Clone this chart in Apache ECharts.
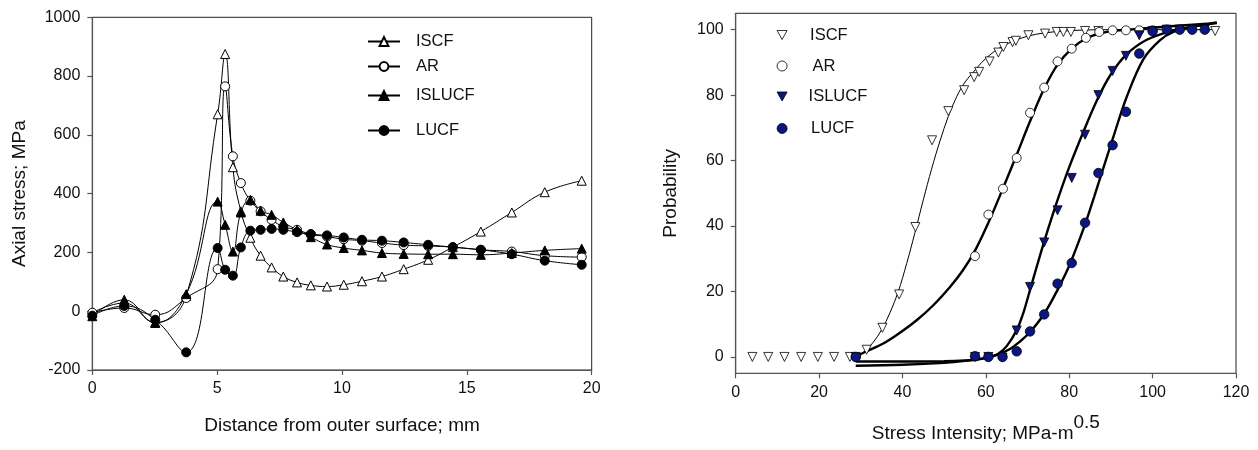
<!DOCTYPE html>
<html>
<head>
<meta charset="utf-8">
<script src="https://cdn.jsdelivr.net/npm/echarts@6/dist/echarts.min.js"></script>
<style>html,body{margin:0;padding:0;background:#fff;}#c{width:1258px;height:450px;}</style>
</head>
<body>
<div id="c"></div>
<script>
// ---------- Left chart: axial stress vs distance ----------
const distance = [0, 1.28, 2.52, 3.76, 5.02, 5.32, 5.63, 5.95, 6.33, 6.74, 7.18, 7.65, 8.2, 8.75, 9.4, 10.07, 10.8, 11.6, 12.47, 13.45, 14.44, 15.56, 16.8, 18.12, 19.6];
const stressISCF   = [-5, 28, -38, 52, 670, 875, 490, 340, 250, 189, 149, 118, 98, 88, 84, 90, 102, 118, 143, 175, 218, 271, 336, 405, 444];
const stressAR     = [-5, 11, -12, 45, 143, 765, 527, 436, 376, 340, 311, 288, 277, 262, 254, 245, 240, 232, 225, 222, 218, 209, 203, 189, 184];
const stressISLUCF = [-17, 39, -40, 58, 373, 294, 203, 336, 379, 342, 328, 302, 277, 252, 227, 215, 207, 198, 195, 194, 194, 192, 198, 207, 213];
const stressLUCF   = [-15, 18, -29, -140, 215, 141, 121, 217, 274, 277, 280, 277, 269, 262, 258, 251, 243, 240, 234, 226, 218, 209, 194, 172, 158];
const leftNames = ['ISCF', 'AR', 'ISLUCF', 'LUCF'];
const distTicks = [0, 5, 10, 15, 20];
const stressTicks = [-200, 0, 200, 400, 600, 800, 1000];

// ---------- Right chart: probability vs stress intensity ----------
const kISCF = [4, 7.8, 11.7, 15.7, 19.7, 23.6, 27.4, 31.4, 35.2, 39.2, 43.1, 47.1, 51.0, 54.8, 57.2, 58.4, 60.9, 63.0, 64.2, 66.4, 67.2, 70.2, 74.2, 77.0, 78.6, 80.4, 83.8, 87.0, 115.0];
const pISCF = [0, 0, 0, 0, 0, 0, 0, 2.2, 8.9, 19.1, 39.7, 66.2, 75.1, 81.5, 85.5, 87.1, 90.3, 93.0, 94.7, 96.2, 96.6, 98.3, 98.8, 99.3, 99.3, 99.3, 99.6, 99.6, 99.6];
const kAR = [28.8, 57.4, 60.6, 64.1, 67.4, 70.6, 74.0, 77.2, 80.6, 84.0, 87.2, 90.4, 93.6, 96.8, 100.0];
const pAR = [0, 30.8, 43.5, 51.4, 60.8, 74.6, 82.3, 90.3, 94.2, 97.5, 99.3, 99.8, 99.8, 99.8, 99.8];
const kISLUCF = [28.8, 57.4, 60.6, 64.0, 67.4, 70.6, 74.0, 77.2, 80.6, 83.8, 87.0, 90.4, 93.6, 96.8, 100.0, 103.4, 106.5, 109.5, 112.5];
const pISLUCF = [0, 0, 0, -0.2, 8.1, 21.4, 35.0, 44.8, 54.7, 67.9, 80.0, 87.4, 92.0, 98.3, 99.6, 100, 100, 100, 100];
const kLUCF = [28.8, 57.4, 60.6, 64.0, 67.4, 70.6, 74.0, 77.2, 80.6, 83.8, 87.0, 90.4, 93.6, 96.8, 100.0, 103.4, 106.5, 109.5, 112.5];
const pLUCF = [0, 0.2, 0, 0, 1.7, 7.8, 13.0, 22.4, 28.7, 41.0, 56.2, 64.7, 74.9, 92.7, 99.5, 100, 100, 100, 100];

// fitted curves
const fitKISCF = [29, 31, 33, 35, 37, 39, 41, 43, 45, 47, 49, 51, 53, 55, 57, 59, 61, 63, 65, 67, 70, 74, 80, 90, 100, 115];
const fitPISCF = [0, 1.8, 4.5, 8.3, 13.5, 20, 28.5, 38, 48, 57.5, 66, 73.5, 79.5, 84, 87, 90, 92.3, 94.2, 95.6, 96.7, 98, 99, 99.7, 100, 100, 100];
const fitKAR = [28.8, 31, 35.4, 39.4, 43.4, 47.4, 51.4, 54.5, 57.4, 60.6, 64.1, 67.4, 70.6, 74, 77.2, 80.6, 84, 87.5, 91, 95, 100, 106, 113];
const fitPAR = [0, 1.5, 4.1, 7.4, 11.2, 15.8, 21.4, 26.5, 32.5, 41, 51.5, 61.8, 72, 82, 89.3, 94.2, 97.3, 98.9, 99.7, 100.1, 100.6, 101.2, 101.8];
const fitKISLUCF = [28.8, 40, 50, 55, 58, 61, 63, 65, 67.4, 69, 70.6, 72.3, 74, 75.8, 77.8, 80, 83.4, 86.6, 89.8, 93.8, 98.6, 104.2, 109, 115.4];
const fitPISLUCF = [-1.4, -1.4, -1.3, -1.1, -0.8, 0, 1.0, 3.3, 8.2, 13.5, 20.5, 28, 35.3, 42.6, 50.2, 58, 68.8, 78.3, 86, 92.5, 96.9, 99.5, 100.8, 102];
const fitKLUCF = [28.8, 40, 50, 55, 60, 63, 66, 68, 70.6, 74, 77.2, 80.2, 83.8, 86, 88, 90.6, 93.8, 97.8, 101.8, 105, 110, 115.4];
const fitPLUCF = [-2.7, -2.4, -1.8, -1.2, -0.3, 0.8, 2.6, 4.5, 7.6, 13.2, 20.5, 28.5, 40.5, 49, 57, 67.3, 79.5, 91, 96.8, 99.3, 101, 102.2];
const rightNames = ['ISCF', 'AR', 'ISLUCF', 'LUCF'];
const kTicks = [0, 20, 40, 60, 80, 100, 120];
const probTicks = [0, 20, 40, 60, 80, 100];

const FONT = '"Liberation Sans", Arial, Helvetica, sans-serif';
const NAVY = '#0b1680';
const DOWN_TRI = 'path://M0,0L10,0L5,9Z';
const zip = (a, b) => a.map((v, i) => [v, b[i]]);

const axisCommon = {
  axisLine: { show: true, onZero: false, lineStyle: { color: '#555', width: 1.2 } },
  axisTick: { show: true, inside: false, length: 5, lineStyle: { color: '#555', width: 1.2 } },
  axisLabel: { color: '#111', fontSize: 16, fontFamily: FONT, formatter: (v) => String(v) },
  splitLine: { show: false },
  nameLocation: 'middle',
  nameTextStyle: { color: '#111', fontSize: 19, fontFamily: FONT }
};

function lineSeries(name, ys, symbol, fill) {
  return {
    type: 'line', name: name, xAxisIndex: 0, yAxisIndex: 0,
    data: zip(distance, ys), smooth: 0.45,
    symbol: symbol, symbolSize: 9, showSymbol: true, showAllSymbol: true,
    lineStyle: { color: '#000', width: 1 },
    itemStyle: { color: fill, borderColor: '#000', borderWidth: 1 },
    emphasis: { disabled: true }
  };
}

function fitSeries(name, ks, ps, width) {
  return {
    type: 'line', name: name, xAxisIndex: 1, yAxisIndex: 1,
    data: zip(ks, ps), smooth: 0.35, symbol: 'none', z: 2,
    lineStyle: { color: '#000', width: width },
    emphasis: { disabled: true }
  };
}

function scatterSeries(name, ks, ps, symbol, rot, fill, size) {
  return {
    type: 'scatter', name: name, xAxisIndex: 1, yAxisIndex: 1,
    data: zip(ks, ps), symbol: symbol, symbolRotate: rot, symbolSize: size, z: 3,
    itemStyle: { color: fill, borderColor: '#000', borderWidth: 0.8, opacity: 1 },
    emphasis: { disabled: true }
  };
}

const leftLegendTops = [33, 58, 87, 122];
const rightLegendTops = [26.5, 57.5, 88, 120];
const rightLegendPad = [18, 20.5, 16.5, 19];
const rightLegendIcon = [DOWN_TRI, 'circle', DOWN_TRI, 'circle'];
const rightLegendFill = ['#fff', '#fff', NAVY, NAVY];

const legends = [];
leftNames.forEach((n, i) => legends.push({
  data: [n], left: 367, top: leftLegendTops[i], padding: 0,
  itemWidth: 32, itemHeight: 11, selectedMode: false,
  textStyle: { fontSize: 16.5, fontFamily: FONT, color: '#111', padding: [0, 0, 0, 11] }
}));
rightNames.forEach((n, i) => legends.push({
  data: [{ name: n + ' ', icon: rightLegendIcon[i] }], left: 776.7, top: rightLegendTops[i], padding: 0,
  itemWidth: 10, itemHeight: 10, selectedMode: false,
  itemStyle: { color: rightLegendFill[i], borderColor: '#000', borderWidth: 0.8 },
  formatter: (s) => s.trim(),
  textStyle: { fontSize: 16.5, fontFamily: FONT, color: '#111', padding: [0, 0, 0, rightLegendPad[i]] }
}));

const option = {
  animation: false,
  backgroundColor: '#fff',
  textStyle: { fontFamily: FONT },
  legend: legends,
  grid: [
    { left: 92.3, top: 17.3, width: 499.4, height: 352.7, show: true, borderColor: '#222', borderWidth: 1, backgroundColor: 'transparent' },
    { left: 735.7, top: 13.3, width: 500.3, height: 360, show: true, borderColor: '#222', borderWidth: 1, backgroundColor: 'transparent' }
  ],
  xAxis: [
    Object.assign({}, axisCommon, {
      type: 'value', gridIndex: 0, min: distTicks[0], max: distTicks[distTicks.length - 1], interval: 5,
      name: 'Distance from outer surface; mm', nameGap: 46,
      axisLabel: Object.assign({}, axisCommon.axisLabel, { margin: 11 })
    }),
    Object.assign({}, axisCommon, {
      type: 'value', gridIndex: 1, min: kTicks[0], max: kTicks[kTicks.length - 1], interval: 20,
      name: '{a|Stress Intensity; MPa-m}{b|0.5}', nameGap: 40,
      nameTextStyle: {
        color: '#111', fontSize: 19, fontFamily: FONT,
        rich: {
          a: { fontSize: 19, fontFamily: FONT, color: '#111', verticalAlign: 'bottom' },
          b: { fontSize: 19, fontFamily: FONT, color: '#111', verticalAlign: 'bottom', padding: [0, 0, 11, 0] }
        }
      },
      axisLabel: Object.assign({}, axisCommon.axisLabel, { margin: 11 })
    })
  ],
  yAxis: [
    Object.assign({}, axisCommon, {
      type: 'value', gridIndex: 0, min: stressTicks[0], max: stressTicks[stressTicks.length - 1], interval: 200,
      name: 'Axial stress; MPa', nameGap: 63,
      axisLabel: Object.assign({}, axisCommon.axisLabel, { margin: 12 })
    }),
    Object.assign({}, axisCommon, {
      type: 'value', gridIndex: 1, min: -5, max: 105,
      name: 'Probability', nameGap: 55,
      axisTick: Object.assign({}, axisCommon.axisTick, { customValues: probTicks }),
      axisLabel: Object.assign({}, axisCommon.axisLabel, { margin: 12, customValues: probTicks })
    })
  ],
  series: [
    lineSeries(leftNames[0], stressISCF, 'triangle', '#fff'),
    lineSeries(leftNames[1], stressAR, 'circle', '#fff'),
    lineSeries(leftNames[2], stressISLUCF, 'triangle', '#000'),
    lineSeries(leftNames[3], stressLUCF, 'circle', '#000'),
    fitSeries('ISCF fit', fitKISCF, fitPISCF, 1),
    fitSeries('AR fit', fitKAR, fitPAR, 2.4),
    fitSeries('ISLUCF fit', fitKISLUCF, fitPISLUCF, 2.4),
    fitSeries('LUCF fit', fitKLUCF, fitPLUCF, 2.4),
    scatterSeries(rightNames[0] + ' ', kISCF, pISCF, 'triangle', 180, '#fff', 9),
    scatterSeries(rightNames[1] + ' ', kAR, pAR, 'circle', 0, '#fff', 9),
    scatterSeries(rightNames[2] + ' ', kISLUCF, pISLUCF, 'triangle', 180, NAVY, 9),
    scatterSeries(rightNames[3] + ' ', kLUCF, pLUCF, 'circle', 0, NAVY, 9.5)
  ]
};

const chart = echarts.init(document.getElementById('c'), null, { renderer: 'canvas' });
chart.setOption(option);
</script>
</body>
</html>
